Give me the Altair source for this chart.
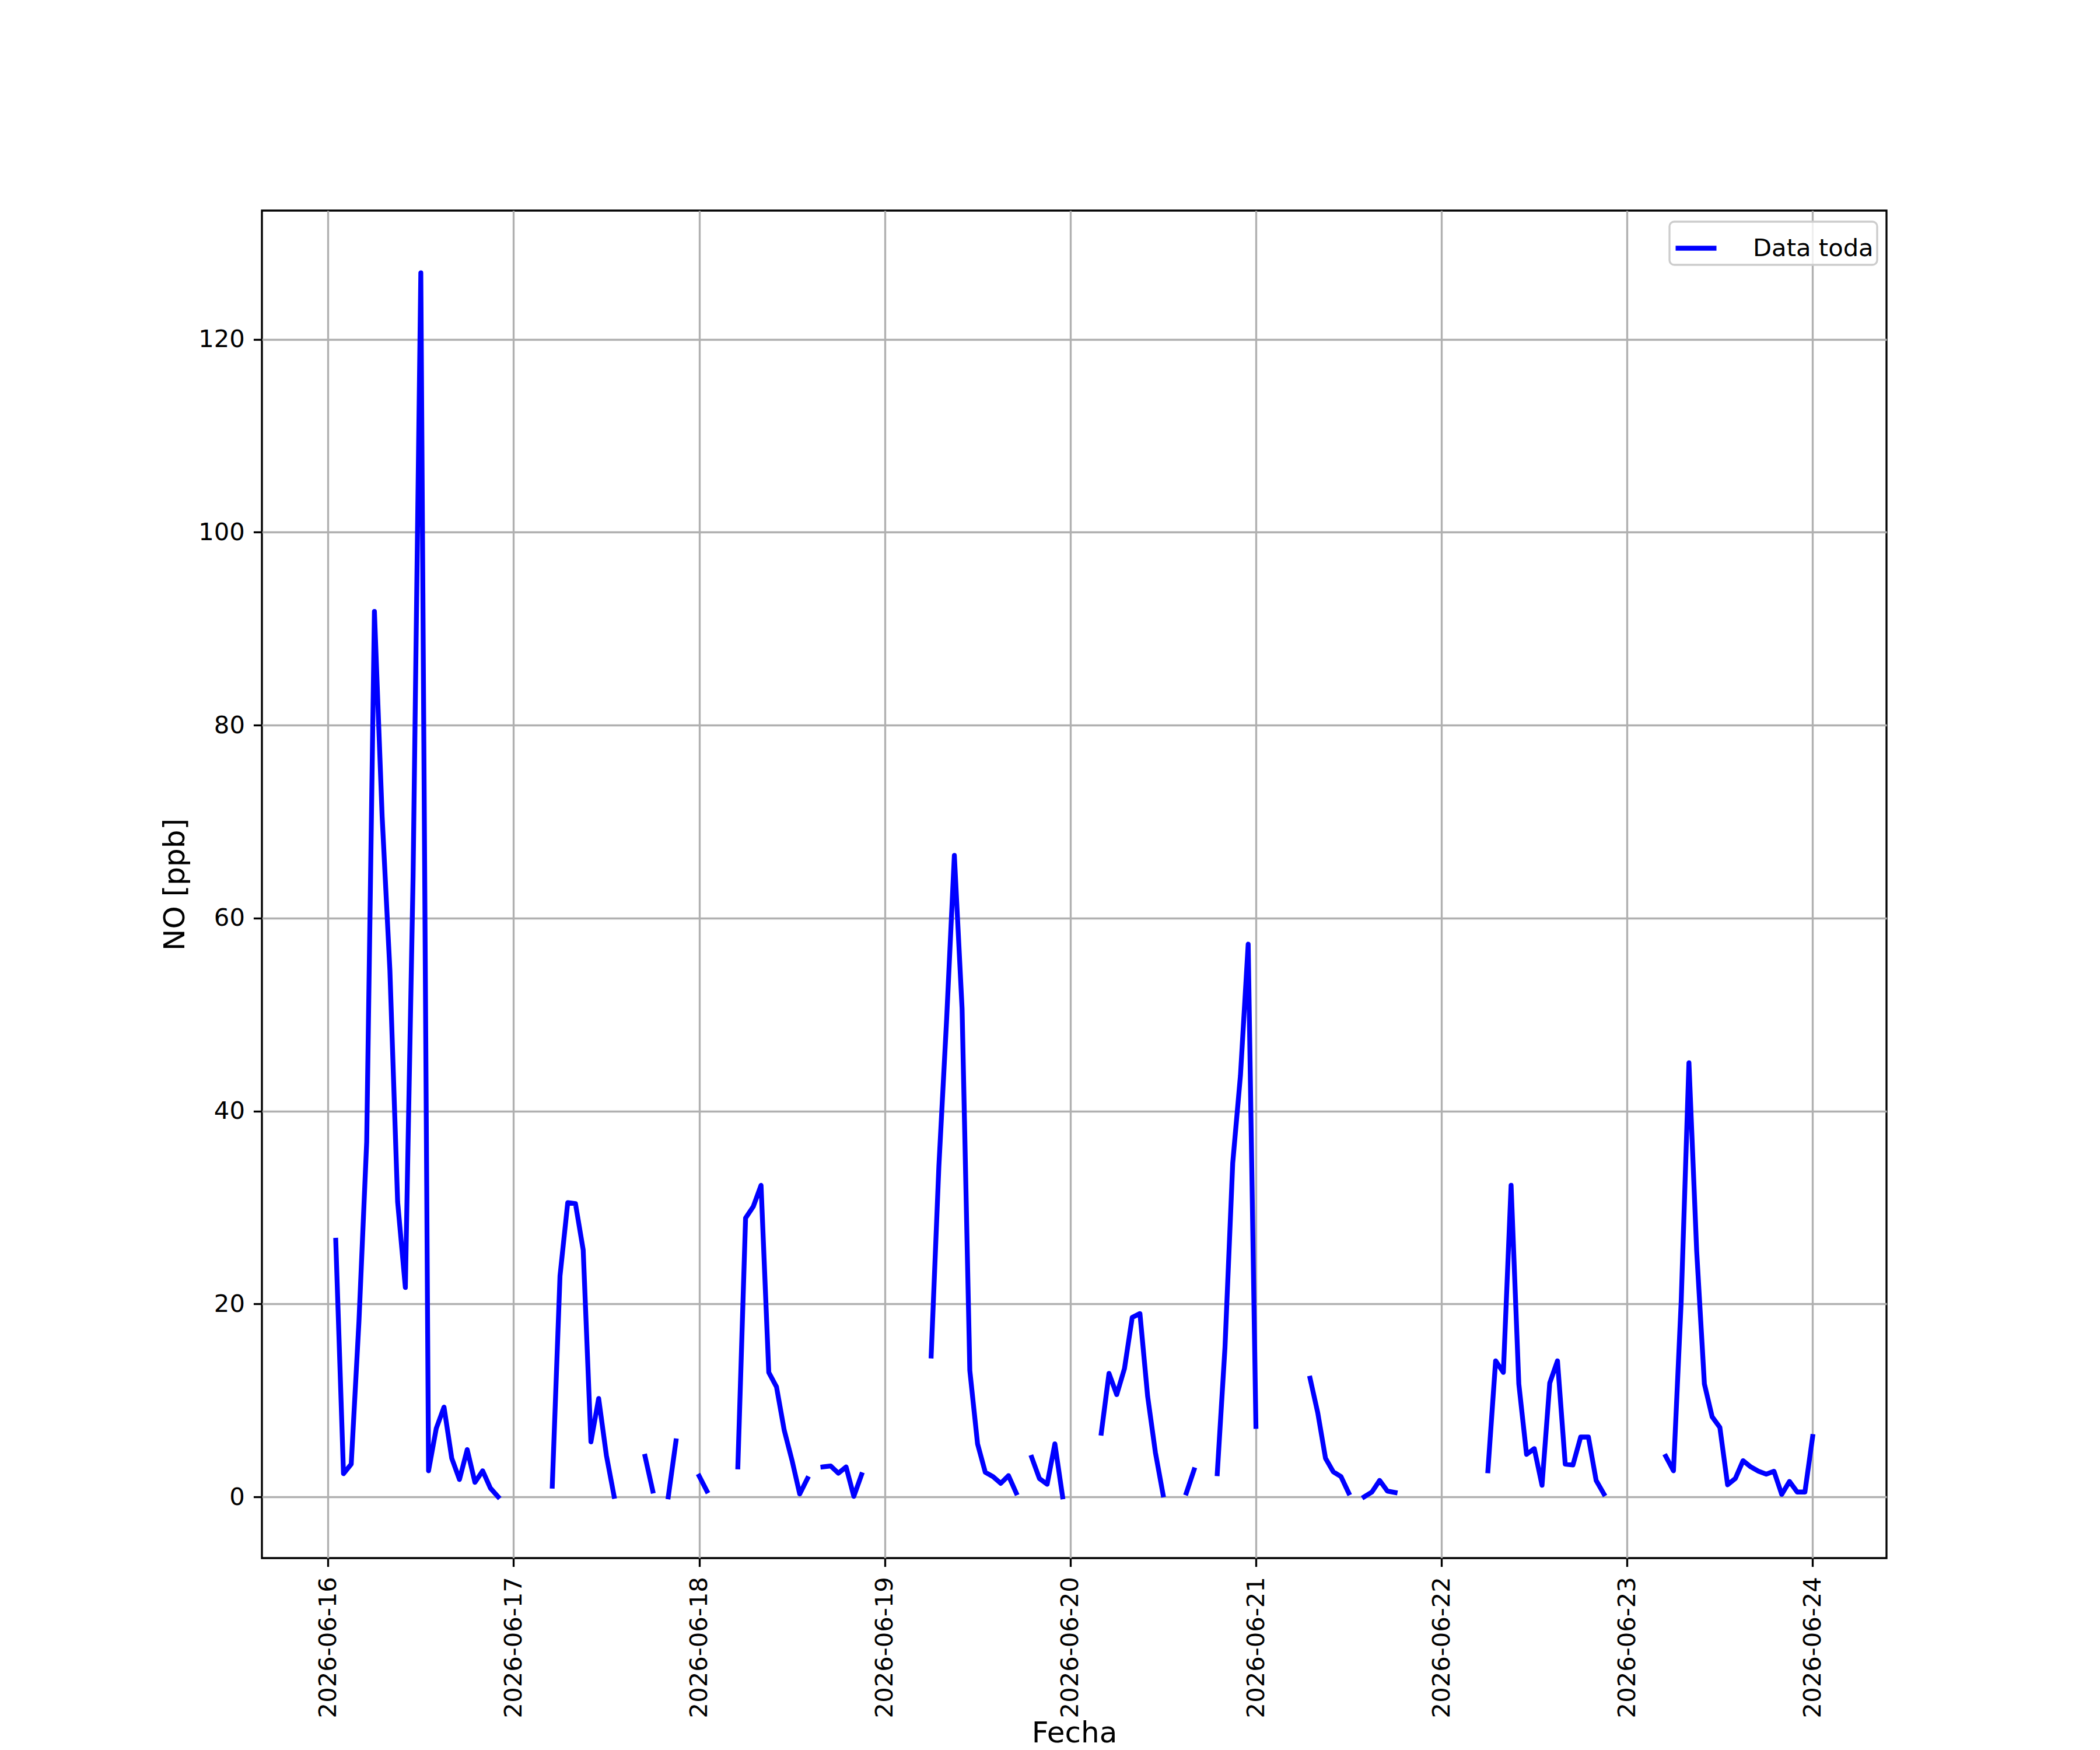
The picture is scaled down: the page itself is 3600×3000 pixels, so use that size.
import altair as alt
import pandas as pd

# Hourly NO concentration [ppb], one list per day (hours 00..23), None = missing
no_0616 = [None, 26.6, 2.4, 3.4, 18.2, 36.8, 91.8, 70.5, 54.6, 30.6, 21.7, 64.3,
           126.9, 2.7, 7.1, 9.3, 4.0, 1.8, 4.9, 1.5, 2.7, 0.9, 0.0, None]
no_0617 = [None, None, None, None, None, 1.1, 22.9, 30.5, 30.4, 25.6, 5.7, 10.2,
           4.3, 0.05, None, None, None, 4.2, 0.6, None, 0.0, 5.8, None, None]
no_0618 = [2.15, 0.6, None, None, None, 3.1, 28.9, 30.1, 32.3, 12.9, 11.4, 6.9,
           3.8, 0.3, 1.9, None, 3.1, 3.2, 2.45, 3.1, 0.05, 2.3, None, None]
no_0619 = [None, None, None, None, None, None, 14.6, 34.3, 49.5, 66.5, 50.6, 13.1,
           5.5, 2.55, 2.1, 1.4, 2.2, 0.4, None, 4.1, 1.9, 1.3, 5.5, 0.0]
no_0620 = [None, None, None, None, 6.6, 12.8, 10.6, 13.3, 18.6, 19.0, 10.4, 4.6,
           0.2, None, None, 0.4, 2.8, None, None, 2.4, 15.5, 34.6, 43.7, 57.3]
no_0621 = [7.3, None, None, None, None, None, None, 12.3, 8.7, 4.0, 2.6, 2.1,
           0.4, None, 0.0, 0.5, 1.7, 0.6, 0.45, None, None, None, None, None]
no_0622 = [None, None, None, None, None, None, 2.7, 14.1, 12.9, 32.3, 11.7, 4.4,
           5.0, 1.2, 11.8, 14.1, 3.4, 3.3, 6.2, 6.2, 1.7, 0.3, None, None]
no_0623 = [None, None, None, None, None, 4.2, 2.7, 20.3, 45.0, 25.5, 11.7, 8.3,
           7.2, 1.25, 1.9, 3.75, 3.1, 2.65, 2.35, 2.65, 0.25, 1.6, 0.5, 0.5]
no_0624 = [6.25]

days = ["2026-06-16", "2026-06-17", "2026-06-18", "2026-06-19", "2026-06-20",
        "2026-06-21", "2026-06-22", "2026-06-23", "2026-06-24"]
series = [no_0616, no_0617, no_0618, no_0619, no_0620, no_0621, no_0622, no_0623, no_0624]
tick_days = [16, 17, 18, 19, 20, 21, 22, 23, 24]
y_ticks = [0, 20, 40, 60, 80, 100, 120]
legend_label = "Data toda"

rows = []
for day, vals in zip(days, series):
    for h, v in enumerate(vals):
        rows.append({"fecha": f"{day}T{h:02d}:00:00Z", "NO": v, "serie": legend_label})
df = pd.DataFrame(rows)

FONT = "DejaVu Sans"
TICK_FS = 41.7
TITLE_FS = 50
LW = 3.33

x_axis = alt.Axis(
    values=[alt.DateTime(year=2026, month=6, date=d, utc=True) for d in tick_days],
    format="%Y-%m-%d", labelAngle=270, labelOverlap=False, labelLimit=0,
    labelFont=FONT, labelFontSize=TICK_FS, labelColor="black", labelPadding=17,
    tickColor="black", tickWidth=LW, tickSize=14.6,
    gridColor="#b0b0b0", gridWidth=LW, domain=False,
    title="Fecha", titleFont=FONT, titleFontSize=TITLE_FS, titleFontWeight="normal",
    titleColor="black", titleBaseline="top", titleY=275,
)
y_axis = alt.Axis(
    values=y_ticks, labelFont=FONT, labelFontSize=TICK_FS, labelColor="black",
    labelPadding=15, tickColor="black", tickWidth=LW, tickSize=14.6,
    gridColor="#b0b0b0", gridWidth=LW, domain=False,
    title="NO [ppb]", titleFont=FONT, titleFontSize=TITLE_FS, titleFontWeight="normal",
    titleColor="black", titlePadding=14,
)

chart = alt.Chart(df).mark_line(
    strokeWidth=8.3, strokeCap="square", strokeJoin="round"
).encode(
    x=alt.X("fecha:T", axis=x_axis,
            scale=alt.Scale(type="utc", domain=[
                alt.DateTime(year=2026, month=6, date=15, hours=15, minutes=27, utc=True),
                alt.DateTime(year=2026, month=6, date=24, hours=9, minutes=33, utc=True)],
                nice=False)),
    y=alt.Y("NO:Q", axis=y_axis,
            scale=alt.Scale(domain=[-6.35, 133.35], nice=False, zero=False)),
    color=alt.Color("serie:N", scale=alt.Scale(domain=[legend_label], range=["#0000ff"]),
                    legend=alt.Legend(
                        title=None, orient="none", legendX=2413, legendY=19,
                        symbolType="stroke", symbolSize=4900, symbolStrokeWidth=8.3,
                        labelFont=FONT, labelFontSize=TICK_FS, labelColor="black",
                        labelLimit=0, labelOffset=58, padding=6, strokeColor="#cccccc",
                        fillColor="rgba(255,255,255,0.8)", cornerRadius=8,
                    )),
).properties(
    width=2785, height=2310,
    autosize=alt.AutoSizeParams(type="none"),
    padding={"left": 441, "top": 353, "right": 358, "bottom": 329},
).configure_view(
    stroke="black", strokeWidth=LW
).configure_legend(
    strokeWidth=LW
)

chart.save("out.html", embed_options={"renderer": "svg", "actions": False})
